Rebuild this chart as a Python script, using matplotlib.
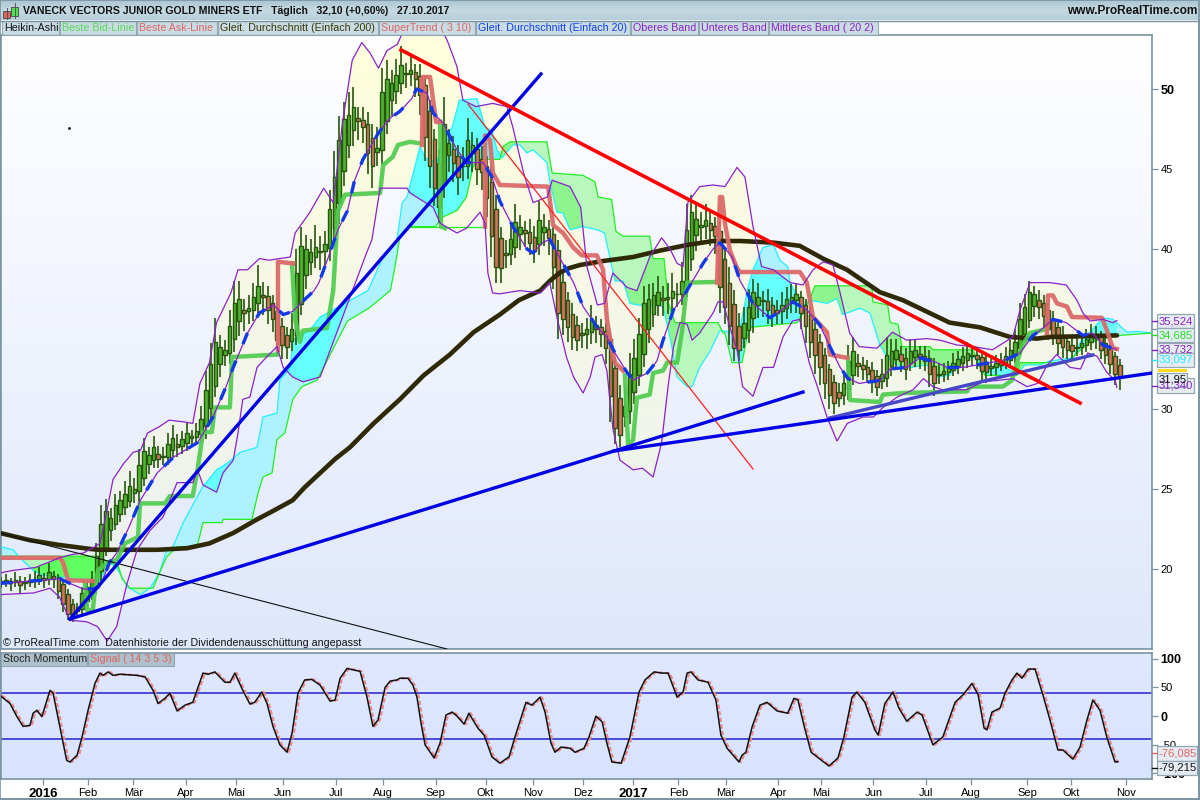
import numpy as np
import matplotlib
matplotlib.use("Agg")
import matplotlib.pyplot as plt
from matplotlib.colors import LinearSegmentedColormap
from matplotlib.patches import Rectangle, PathPatch
from matplotlib.path import Path

plt.rcParams['font.family'] = ['Liberation Sans', 'DejaVu Sans']
nan = float('nan')

# ---- Heikin-Ashi closes, one candle every two sessions
ha_close = [19.2,19.3,19.1,19.3,19.0,19.2,19.3,19.4,19.6,19.3,19.8,19.4,18.6,17.8,17.2,17.0,17.6,18.5,18.9,19.4,20.8,
 22.8,23.6,23.2,24.0,24.3,24.7,25.2,25.0,26.5,27.4,27.1,27.6,26.9,27.0,27.8,28.2,27.6,28.1,28.5,28.3,28.6,29.4,31.2,
 32.8,34.2,33.9,33.7,35.2,36.6,36.9,36.0,36.3,37.0,37.7,37.0,36.2,35.6,34.3,34.0,33.9,35.0,38.5,
 40.2,40.0,39.8,40.1,39.9,40.3,42.5,44.5,46.8,48.1,48.4,48.9,48.0,47.6,46.0,45.2,46.3,49.8,50.6,50.4,50.9,51.5,
 51.0,51.2,50.6,49.6,47.0,45.2,43.8,42.6,47.8,46.6,45.4,44.5,45.2,46.8,46.5,45.0,44.8,43.2,40.8,38.9,
 38.8,39.6,40.6,41.7,41.4,41.0,40.4,39.9,41.8,41.4,40.7,38.9,36.0,35.6,35.1,34.5,34.3,34.6,35.0,35.6,35.0,
 34.7,33.8,30.8,28.8,28.4,30.2,32.2,33.2,34.7,36.6,36.9,37.1,37.3,36.8,37.0,37.4,37.2,38.0,41.2,42.3,41.9,
 41.5,41.8,41.2,40.8,37.6,36.4,35.2,33.8,33.7,35.4,36.4,37.3,37.0,36.8,36.2,35.9,36.0,36.5,36.9,37.0,37.2,
 36.0,35.2,34.2,33.4,32.6,31.6,30.9,30.4,30.7,31.6,33.0,33.6,32.7,32.5,32.2,31.7,31.4,32.2,33.4,33.6,33.7,
 33.0,32.5,33.6,33.7,33.2,33.0,32.2,31.6,32.2,32.4,32.6,32.9,33.1,33.3,33.5,33.4,33.1,32.4,32.3,32.7,32.9,
 33.0,33.3,33.7,34.2,35.6,36.4,37.3,37.2,36.4,35.8,35.0,34.6,34.1,33.9,33.7,33.6,33.9,34.1,34.4,34.7,34.7,33.7,33.4,32.8,32.2,32.0]
wick_up = [.3,.4,.2,.5,.3,.3,.4,.5,.5,.3,.6,.3,.2,.2,.3,.3,.3,.4,.4,.5,.8,
 1.2,.8,.6,.7,.6,.8,.9,.7,1.0,.8,.5,.7,.5,.6,.7,.8,.6,.5,.6,.4,.5,.8,1.2,
 1.3,1.5,.7,.6,1.0,1.4,1.1,.7,.8,.9,1.3,.8,.6,.5,.6,.5,.5,1.0,1.5,
 1.2,.9,.8,1.4,.9,.8,1.2,1.6,1.5,1.1,1.4,1.2,.7,.8,.7,.9,1.3,1.5,1.2,.8,1.0,1.2,
 .6,.8,.5,.7,.6,.7,.6,.9,1.7,.9,.8,.7,1.2,1.4,.8,.7,.8,.6,.9,.9,
 .7,.8,1.0,1.1,.7,.6,.8,.7,1.2,.8,.6,.5,.6,.7,.5,.7,.6,.6,.7,.9,.6,
 .5,.5,.6,.6,.8,1.2,1.3,1.2,1.0,1.1,.9,.8,1.0,.8,.9,1.1,.7,1.2,1.6,1.1,.9,
 .8,1.0,.7,.6,.6,.7,1.0,.9,.8,1.0,1.1,.8,.9,.6,.7,.5,.6,.8,.7,.8,.6,
 .4,.4,.5,.4,.5,.4,.3,.4,.6,.8,1.0,.9,.6,.5,.4,.5,.4,.9,1.1,.8,.7,
 .5,.6,.8,.7,.5,.6,.5,.5,.6,.5,.4,.6,.5,.6,.7,.5,.5,.4,.6,.7,.5,
 .5,.6,.6,.8,1.0,.8,.7,.5,.6,.5,.4,.5,.5,.6,.4,.5,.6,.5,.6,.6,.5,.3,.3,.3,.3,.4]
wick_dn = [.4,.3,.5,.3,.5,.4,.3,.4,.3,.5,.4,.6,.5,.5,.4,.3,.4,.3,.4,.4,.5,
 .6,.5,.7,.4,.5,.5,.4,.6,.7,.5,.6,.5,.6,.5,.5,.4,.6,.5,.5,.6,.5,.5,.8,
 .9,.7,.8,.7,.7,.8,.9,1.1,.8,.7,.6,1.1,.9,.8,1.0,.9,.8,.6,.6,
 .7,.9,.8,.7,1.1,.9,.8,1.1,1.3,.9,.8,1.0,1.2,1.0,1.3,1.4,.9,.9,.8,1.0,.8,.7,
 .9,.8,1.1,1.2,1.5,1.4,1.1,1.0,.8,1.1,1.2,1.1,.9,.8,1.2,1.0,1.1,1.2,1.3,1.0,
 .9,.8,.7,.7,1.0,.9,.8,.8,.7,.9,1.1,1.4,1.6,1.0,.9,.8,.7,.8,.9,.8,.9,
 .8,1.0,1.6,1.0,.8,.7,.8,.7,.7,.8,.9,.8,.7,1.0,.9,.8,.8,.7,.6,.8,1.0,
 .9,.8,1.0,1.1,1.6,1.1,1.2,.8,.7,.6,.8,.9,.8,1.0,.9,.8,.7,.8,.7,.6,.8,
 1.0,1.1,1.0,1.2,1.1,1.0,.9,.7,.6,.6,.7,.6,.7,.7,.6,.7,.6,.5,.6,.6,.6,
 .7,.7,.5,.6,.7,.6,.8,.8,.6,.5,.5,.4,.5,.5,.5,.6,.6,.8,.7,.5,.5,
 .4,.4,.4,.5,.4,.5,.5,.7,.8,.8,.7,.6,.7,.7,.6,.6,.5,.5,.4,.5,.7,.6,.6,.6,.7,.8]

# ---- Bollinger bands (session, price)
upper_s = [0,5,10,15,20,25,30,35,40,42,45,47.5,52,56,59,62,67,71,77,81,84,88,91,97,100,104,109,113,122,124,130,136,140,144,148,152,155.5,159,162.6,167,172,177,183,188,192,194.5,200,207,213,215.5,220,224,230,232,239.5,244,246.6,251,254,257.5,263.5,267.6,273,278,281.5,284.5,287,289,294,299.6,304.6,309.7,313,316.4,320,325,332,337.4,341.6,345.8,350,353,357,361,368.5,375,381,389.5,395,402,409,417,425.6,428.6,432.8,441,448,452.5,455,458,463.4,467.6,469.3]
upper_p = [19.75,19.9,20.0,20.1,20.4,20.7,20.9,21,21.4,21.6,23.7,25.6,26.6,27.3,27.4,28.5,28.9,29.3,29.2,29.1,31.6,32.9,35.4,37.25,38.7,38.7,39.4,39.3,39.5,41,42.25,43.8,42.9,48,51.8,52.9,52.25,51.3,52.4,52.8,54.5,53.6,54.5,53,51.4,49.3,48.9,49.1,48.9,47.6,44.75,42.9,43.25,44.3,43.9,42.6,38.9,36.5,36.6,38.5,37.6,37.4,39.5,40.7,40,39.1,38.9,42.9,43.9,44,43.9,45.1,44.5,41.4,38.9,38.7,37.9,37.75,38.7,39.2,39,37.25,34.75,33.9,33.8,34.8,34.3,34.4,34.3,34,33.9,33.7,34.5,36.2,37.9,37.9,37.75,36.8,36,35.5,35.6,35.4,35.52]
lower_s = [0,14,21,25,29.4,36.5,41,45,49,53.4,57.6,63,68.5,74.4,81,83,85.3,91,93.7,98,100,102,105,108,112,116.4,119,123,127.3,134.5,154,156.3,159.7,171,172.3,182,185,192,196,201.7,203.8,205,207,210,218.5,227,231,234,238,241,245,248,250,253,255,257.6,260.5,266,270,274.4,278,280.7,283,285.7,288.7,290.8,294,299.6,301.7,303.8,306.7,309.7,312,316.4,320.6,325,329,333,336,340,343,347.5,351.7,356,362.6,367,371,377,383.6,388,392,396,406,413,420,425.6,431.5,436,440,444,449.6,454,457,461,465,468.5,469.3]
lower_p = [18.4,18.5,18.8,18.25,16.8,16.7,16.4,15.5,16.4,19.1,21.2,22.4,23.25,25.4,25.4,26.2,25.25,24.8,26,26.8,28.5,30.6,30.75,32.6,33.25,33.9,32.6,32,31.7,32,39.75,40.6,43.8,43.8,43.5,42.6,41.6,41,41.3,42.3,41.6,38.5,37.25,37.2,37.4,37.25,37.9,35.75,33.25,32,31,32,33.25,33.4,32.4,28.7,26.8,26.2,26.3,25.75,27.9,31.4,33.9,35.4,35.3,34.3,34.75,36,36.7,36.7,35.1,33.7,31.4,30.8,32.6,32.6,34.5,35.5,35.6,32.9,31.6,29.5,28,29.1,29.5,29.5,30.1,30.75,31.2,31.9,31.4,31.2,31.2,31.7,31.8,31.9,31.4,31.6,32.75,33.4,32.6,32.5,33.5,33.3,32.3,31.8,31.34]
mid_s = [0,18,25,29.4,35,39,42,46,49,54,59,66,73,83,89.5,95,98,104,109,115,119,123,127,132,134,138,142,146,149,152.5,159,164,168,173,175,179.4,182,186,192,196,203,206.7,210,215.5,221.4,224,228,231,235,241,245,251,255,258.4,263.4,266,272,276,278.6,283,287,293,295.4,299.6,302.5,307.6,311,316.4,323.5,327.7,333,339,344.5,348.7,353,356.3,361,370,374,381,386.5,393.7,398,404.6,410.5,416,423,428.6,434,437,442.4,448,455,459,463.4,469]
mid_p = [19.1,19.3,19.4,19.1,18.75,18.75,18.9,20.4,21,22.55,24.3,26,27,27.9,29.5,31.4,32.6,34.75,36,36.5,35.9,36.1,36.7,37.4,37.9,39.5,41.2,42.4,44.3,45.6,47.25,48.2,48.6,49.4,50,49.75,48.5,47.9,46.2,45.4,45.4,44.5,43,41.4,40,39.75,40.4,40.6,39.5,37.9,36.4,35.1,34.5,33.5,32.3,31.8,32.25,33,34.3,36.2,37,38.5,39.1,40,40.4,39.5,38,36.6,35.7,36.1,36.7,36.2,35.25,33.9,32.6,31.9,31.6,31.8,32.5,32.6,33.2,32.9,32.6,32.6,32.75,32.9,33.1,33.5,34.6,34.9,35.6,35.4,34.6,34.75,34,33.73]

# ---- Simple moving average 200
sma200_s = [0,12.6,25,38,42,56,66,78.6,88,98,108,115,123,128,134.5,141,147,157,168,178,189,199,210,218,227,231,235,239,243.7,253.4,266,277.3,288.7,299.6,311,324.8,336,345.8,355.9,369.7,379.4,399,411.8,424.4,435.7,441,455,469.3]
sma200_p = [22.25,21.8,21.5,21.25,21.2,21.2,21.2,21.3,21.6,22.25,23.1,23.65,24.3,25.1,26,26.9,27.6,29.1,30.6,32.1,33.4,34.8,35.9,36.8,37.4,38,38.5,38.8,39,39.25,39.5,39.9,40.25,40.5,40.5,40.4,40.2,39.4,38.7,37.3,36.8,35.4,35.1,34.5,34.4,34.5,34.55,34.6]

# ---- Cloud edges
cyan_s = [0,5.5,8.4,14,18,25,30.7,42,46,49,53.4,59,63,67,70,72.7,77,85,91,95.4,101,108,110.5,116.4,117.6,122,123,130,134.5,154.6,161,166.8,169,171,176.5,178.6,183.6,186,190,193,200.4,203.8,206.7,208.8,211,215.5,218.5,221.4,224,229.8,231,234,236.5,239.5,245,251,254,258.4,261.8,264.7,272,276,278.6,281.5,284.5,288.7,290.8,294,298.3,302.5,308,311,314.3,316.4,320.6,325,327.7,331,332,337.4,340,347.5,351.7,354,361.3,365.5,369.7,372.7,377,382.4,389.5,393.7,399,403.4,410.5,414.7,419,425.6,428.6,430.7,437,441,451,455,458,463.4,467.6,473.5,477.7,484]
cyan_p = [21.4,21.2,20.7,19.9,19.6,19.5,19.4,19.3,20.4,20.1,18.9,18.4,18.8,19.75,21.2,21.4,22.9,25.1,26.2,26.6,27.3,27.6,29.5,29.75,31.8,32.6,34.3,34.9,35.75,37.4,39.5,40.6,42.9,43.25,46.4,45.7,45.4,46.8,47.6,49.3,49.4,47.6,47.4,46.2,45.7,46.5,46.5,46,46.2,45.4,44.2,42.3,42.25,41.2,41.4,41.2,41,38,38,36.6,36.4,36.5,36.4,34.5,32,31.4,31.4,32.6,33.6,34.9,34.8,35.1,37.6,38.7,40.1,40.25,39.3,38.9,37.9,36.4,36.8,36.6,36.9,35.9,36.3,36,34,33.25,32.75,32.6,32.75,32,32.1,33.2,33.2,32.3,32.9,32.3,32.4,32.75,32.75,33,33.2,34.5,34.8,35.7,35.6,34.8,34.85,34.75]
green_s = [0,40.7,46.2,49.6,51.3,54.6,64.3,67,70,74.4,82.8,85.3,93.3,93.7,105.9,108.4,110.5,114.3,116.4,119.7,123,126.9,133.2,146,155,164,166,168,172.3,183,186,192,196,198.7,200.4,210,211.3,214.3,229.8,232,245,250,251.3,257,258.8,261.8,273,274.4,279,280,280.7,283.6,301.7,303.8,304.6,307.6,311.8,313.9,315,334.9,337.4,340.3,342.4,366.4,366.7,373,374,377.3,379,390.8,392,408.8,411.8,413.9,427.3,428.6,448.3,452.5,458,467.6,470.6,484]
green_p = [20.8,20.8,20.4,20.25,19.4,18.8,18.8,19.75,20.75,21.4,21.4,22.9,22.9,23.1,23.1,24.75,25.75,26,28.1,28.5,30.6,31.4,31.8,35.5,36.3,37.4,38.9,40.75,41.4,41.4,42,42.4,43.25,45.1,45.6,45.6,46.4,46.7,46.7,44.75,44.6,44.2,43.25,43.1,41.1,40.8,40.8,39.4,39.4,37.9,36.7,35.4,35.4,34.75,34.75,32.9,32.9,34.5,35.1,35.4,36,36.9,37.7,37.7,36.7,36.5,35.4,35.3,33.9,33.9,33.7,33.7,32.6,32.1,32.1,32.9,32.9,33.5,34.2,34.5,34.6,34.75]
flat_green_s = [172.3,203.8]
flat_green_p = [41.4,41.4]

# ---- Best bid / best ask stops (gaps where the other side takes over)
bid_s = [35.7,36.6,39,39.9,41.2,45.4,49.2,52.5,58,58.8,69.3,71.4,81,83.2,85.3,89,90.3,96.6,97.5,116.4,nan,
 122.7,124,126,127.3,137.4,140,142,145,159.7,161,165,167.2,172.3,176.5,nan,
 184.9,185.3,187,nan,
 262.6,263.9,266,267.6,273,274.4,278.6,280.3,284.5,286.6,288.7,301.3,nan,
 356.3,357.1,369.7,371,379.4,406.3,407.6,421.4,425.2,427.3,429.4,432.8,439.9]
bid_p = [19.1,17.44,17.44,18.7,19.94,20.4,20.6,21.6,22,24.1,24.1,24.56,24.56,26.4,28.56,28.56,30.1,30.1,33.25,33.4,nan,
 39.1,35.6,34.2,34.9,35.06,37.4,42.4,43.4,43.5,45.25,45.75,46.5,46.7,46.6,nan,
 47.94,41.4,41.3,nan,
 32.1,27.75,28.06,30.7,30.9,32.25,32.4,32.9,32.9,34.9,37.9,37.94,nan,
 33.2,30.56,30.44,30.9,31,31.1,31.4,31.4,31.8,32.9,33.9,34.75,35]
ask_s = [0,25.2,26.5,28.6,39,nan,
 116.8,116.8,123.1,nan,
 177.3,177.7,180.7,183.2,184.9,nan,
 203.8,203.8,205.9,207.1,210,230.3,232.4,236.6,240.8,244.5,250.8,253.4,255,257.1,258.4,261.8,nan,
 301.3,302.5,303.4,304.6,306.7,309.7,310.9,336.1,339,341.6,347.5,348.7,355.9,nan,
 439.9,440.3,442.4,444.1,448.3,450.4,463,465.1,467.6,469.3]
ask_p = [20.7,20.7,20.4,19.3,19.25,nan,
 33.7,39.2,39.1,nan,
 46.5,50.75,50.75,47.94,47.94,nan,
 41.4,47.1,46.8,44.75,44,43.9,41.5,41,40.1,39.6,39.6,38.7,35.6,33.7,32.9,32.4,nan,
 37.9,43.25,43.25,41.6,39.9,38.8,38.56,38.56,37.9,35.75,34.8,33.4,33.2,nan,
 34.75,37.1,37.1,36.6,36.4,35.75,35.7,34.9,33.8,33.75]

# ---- Drawn trend lines: (start session, end session), (start price, end price)
red_trend = ([168.5,453.8],[52.44,30.375])
red_thin = ([196.6,316.4],[49.06,26.25])
blue_up = ([29.4,227.3],[16.875,50.94])
blue_base = ([29.4,258,337.4],[16.875,27.375,31.06])
blue_flat = ([258,484],[27.375,32.25])
indigo_trend = ([348.7,459.2],[29.44,33.375])
black_thin = ([0,187.8],[22.25,15])

# ---- Stochastic momentum
stoch_s = [0,4.2,7,9.7,12.6,13.9,15.5,17.6,21,22.3,26,28,29.4,32.4,34.5,37,39.9,42,43.3,45.4,47.5,50.4,57.6,61,64.3,66.4,69.3,71.4,74.4,77.7,81,85.3,87.4,90.3,94.5,96.6,98.7,102,105,107,110,112.2,114.7,117.6,120.6,122.7,125.2,128,131,134.5,138.7,140.8,142.9,145.8,151.3,154.2,156.7,158.8,161.8,163.9,166.8,168,171.4,173.5,175.2,176.9,178.6,182.4,184.9,187.4,190,192,195,197,200.8,203.4,206.7,210,213.9,216.4,219,221,223.5,226.9,229,231.5,233.2,235.7,239.5,241.6,245.4,247.5,250.4,253,255,257.1,261,264.7,266.8,268.5,271,274.8,278.2,280.7,284.5,287,288.7,290.3,293.3,297.5,300.8,302.9,305.5,310.5,311.8,313.4,316,319.3,322.3,326.5,331,333.6,335.3,337.8,340.8,343.3,348.3,352.1,354.6,358,360,363.4,367.6,369,371.8,375.2,377.7,381,385.3,387.4,392,396.2,401.3,404.6,408.4,411,413.5,414.7,416.8,420.2,422.3,425.2,427.3,429.4,432,434.9,438.2,441.2,444.5,446.6,450.8,453.8,456.7,459.2,462.2,465,468.5,469.7]
stoch_v = [36,22,0,-18,-16,5,10,-1,45,40,-36,-77,-80,-68,-36,10,57,75,71,77,71,73,71,68,45,22,31,40,9,19,24,75,73,77,59,59,75,45,21,24,42,22,-18,-50,-63,-30,40,63,64,54,26,28,66,83,78,33,-18,-7,50,61,63,66,66,54,33,-12,-50,-73,-47,2,7,0,-14,5,-21,-33,-71,-82,-71,-36,-2,24,19,33,7,-47,-63,-54,-56,-63,-56,-36,0,-10,-47,-80,-82,-36,7,42,63,77,75,75,33,42,75,77,63,59,28,-33,-56,-80,-68,-63,-19,19,24,9,5,31,28,-16,-63,-71,-87,-73,-36,33,42,24,-24,-33,22,42,14,-9,7,2,-50,-36,24,37,57,37,-21,-24,7,14,40,63,75,66,82,82,37,-7,-59,-59,-75,-54,-7,28,10,-36,-80,-79.2]
signal_lag_sessions = 0.8

price_ticks = [20,25,30,35,40,45,50]
stoch_ticks = [-100,-50,0,50,100]
stoch_levels = [-40,40]
month_ticks = [18,37,56,78,99,119,141,161,183,204,224,245,266,285,305,327,345,367,389,408,431.5,450,473]
month_labels = ['2016','Feb','Mär','Apr','Mai','Jun','Jul','Aug','Sep','Okt','Nov','Dez','2017','Feb','Mär','Apr','Mai','Jun','Jul','Aug','Sep','Okt','Nov']

W, H = 1200, 800
fig = plt.figure(figsize=(12, 8), dpi=100, facecolor='white')

def rect(l, t, r, b):
    return [l/W, 1-b/H, (r-l)/W, (b-t)/H]

FRAME = '#7b93a1'
XLIM = (0.42, 484.04)
ax = fig.add_axes(rect(1, 35, 1152, 649))
ax2 = fig.add_axes(rect(1, 653, 1152, 779))

def gradient(a, top, bottom, zorder=0):
    cm = LinearSegmentedColormap.from_list('g', [top, bottom])
    x0, x1 = a.get_xlim(); y0, y1 = a.get_ylim()
    return a.imshow(np.linspace(0, 1, 256)[:, None], cmap=cm, extent=[x0, x1, y0, y1],
                    aspect='auto', zorder=zorder, origin='upper')

ax.set_xlim(*XLIM); ax.set_ylim(15, 53.375)
ax2.set_xlim(*XLIM); ax2.set_ylim(-109.6, 110)
gradient(ax, '#ffffff', '#dfe7fb')
gradient(ax2, '#e0e8ff', '#d8e3ff')

# ---- bands and cloud on a fine common grid
grid = np.linspace(0, 484, 4000)
up = np.interp(grid, upper_s, upper_p)
lo = np.interp(grid, lower_s, lower_p)
has_band = grid <= 469.3
cy = np.interp(grid, cyan_s, cyan_p)
gr = np.interp(grid, green_s, green_p)

# the band fill fades from pale yellow at the top to a grey tint at the bottom
band_img = gradient(ax, '#ffffdc', '#e9eff3', zorder=1)
vx = np.r_[grid[has_band], grid[has_band][::-1]]
vy = np.r_[up[has_band], lo[has_band][::-1]]
band_patch = PathPatch(Path(np.c_[vx, vy]), transform=ax.transData, fc='none', ec='none')
ax.add_patch(band_patch)
band_img.set_clip_path(band_patch)

ax.fill_between(grid, gr, cy, where=cy >= gr, color='#aef2ff', lw=0, zorder=2)
ax.fill_between(grid, cy, gr, where=gr >= cy, color='#b8f7bd', lw=0, zorder=2)
top_in = np.minimum(np.maximum(cy, gr), up)
bot_in = np.maximum(np.minimum(cy, gr), lo)
inside = has_band & (top_in > bot_in)
ax.fill_between(grid, bot_in, top_in, where=inside & (cy >= gr), color='#66ffff', lw=0, zorder=2)
ax.fill_between(grid, bot_in, top_in, where=inside & (gr > cy) & (grid >= 60), color='#8ef58e', lw=0, zorder=2)
ax.fill_between(grid, bot_in, top_in, where=inside & (gr > cy) & (grid < 60), color='#60ff60', lw=0, zorder=2)
ax.plot(cyan_s, cyan_p, color='#22f0ff', lw=0.9, zorder=3)
ax.plot(green_s, green_p, color='#22ee22', lw=0.9, zorder=3)
ax.plot(flat_green_s, flat_green_p, color='#22ee22', lw=0.9, zorder=3)

# ---- Heikin-Ashi candles
closes = np.array(ha_close)
opens = np.empty_like(closes)
opens[0] = closes[0]
for i in range(1, len(closes)):
    opens[i] = (opens[i-1] + closes[i-1]) / 2
n = min(len(closes), len(wick_up), len(wick_dn))
sess = np.arange(n) * 2 + 0.5
closes, opens = closes[:n], opens[:n]
tops = np.maximum(closes, opens); bots = np.minimum(closes, opens)
ax.vlines(sess, bots - np.array(wick_dn[:n]), tops + np.array(wick_up[:n]),
          color='#27550f', lw=1.2, zorder=5)
colors = ['#4fb52f' if c >= o else '#d9705f' for c, o in zip(closes, opens)]
ax.bar(sess, np.maximum(tops - bots, 0.05), bottom=bots, width=1.5, color=colors,
       edgecolor='#27550f', linewidth=1.0, zorder=6)

# ---- overlays
ax.plot(sma200_s, sma200_p, color='#2f2a05', lw=3.3, zorder=7, solid_capstyle='round', solid_joinstyle='round')
ax.plot(bid_s, bid_p, color='#4fcc4f', lw=3.2, alpha=0.92, zorder=8, solid_joinstyle='round')
ax.plot(ask_s, ask_p, color='#dc6a6a', lw=3.2, alpha=0.95, zorder=8, solid_joinstyle='round')
ax.plot(upper_s, upper_p, color='#8a22c8', lw=0.9, zorder=9)
ax.plot(lower_s, lower_p, color='#8a22c8', lw=0.9, zorder=9)
ax.plot(mid_s, mid_p, color='#8a22c8', lw=0.9, zorder=9)
ax.plot(mid_s, mid_p, color='#1238e8', lw=2.4, zorder=10, dashes=(3.6, 5.4), dash_capstyle='butt')

ax.plot(*black_thin, color='#111111', lw=0.8, zorder=11)
ax.plot(*red_thin, color='#ff2020', lw=0.9, zorder=11)
ax.plot(*indigo_trend, color='#4646c8', lw=2.4, zorder=11)
ax.plot(*blue_up, color='#0000e6', lw=2.4, zorder=12)
ax.plot(*blue_base, color='#0000e6', lw=2.4, zorder=12)
ax.plot(*blue_flat, color='#0000e6', lw=2.4, zorder=12)
ax.plot(*red_trend, color='#ff0000', lw=2.6, zorder=12)

# ---- lower pane
for lvl in stoch_levels:
    ax2.axhline(lvl, color='#2222cc', lw=1.1, zorder=2)
ax2.plot(np.array(stoch_s) + signal_lag_sessions, stoch_v, color='#ea8c8c', lw=1.6,
         dashes=(2, 1), zorder=3)
ax2.plot(stoch_s, stoch_v, color='#111111', lw=1.1, zorder=4, solid_joinstyle='round')

# ---- axes dressing
for a in (ax, ax2):
    a.yaxis.tick_right()
    for s in a.spines.values():
        s.set_color(FRAME); s.set_linewidth(1.2)
    a.tick_params(axis='y', direction='out', length=4, width=0.9, color=FRAME, pad=2, labelsize=8)
ax.set_xticks([])
ax.set_yticks(price_ticks)
ax.set_yticklabels([str(t) for t in price_ticks])
for lab, t in zip(ax.get_yticklabels(), price_ticks):
    if t == 50:
        lab.set_fontweight('bold'); lab.set_fontsize(9)
ax2.set_yticks(stoch_ticks)
ax2.set_yticklabels([str(t) for t in stoch_ticks])
for lab, t in zip(ax2.get_yticklabels(), stoch_ticks):
    if t in (100, 0, -100):
        lab.set_fontweight('bold'); lab.set_fontsize(9)
ax2.set_xticks(month_ticks)
ax2.set_xticklabels(month_labels)
ax2.tick_params(axis='x', direction='out', length=4, width=0.9, color=FRAME, pad=2.5, labelsize=8)
for lab in ax2.get_xticklabels():
    if lab.get_text().startswith('201'):
        lab.set_fontweight('bold'); lab.set_fontsize(9.5)

# ---- overlay in pixel space for header, legends and value boxes
ov = fig.add_axes([0, 0, 1, 1], zorder=20)
ov.patch.set_alpha(0)
ov.axis('off')
cm_head = LinearSegmentedColormap.from_list('h', ['#a8c4d2', '#c6dae2', '#b6cfda'])
ov.imshow(np.linspace(0, 1, 64)[:, None], cmap=cm_head, extent=[0, W, 20, 0], aspect='auto')
ov.set_xlim(0, W); ov.set_ylim(H, 0)
ov.plot([0, W], [20.5, 20.5], color=FRAME, lw=1)
ov.add_patch(Rectangle((0, 0), W-1, H-1, fill=False, ec=FRAME, lw=1.2))
ov.plot([1199, 1199], [20, 800], color=FRAME, lw=1.2)
ov.plot([0, W], [799, 799], color=FRAME, lw=1.2)

# icon
ov.plot([6.5, 6.5], [8, 19], color='#555555', lw=0.7)
ov.add_patch(Rectangle((3, 11), 7, 7, fc='#e06060', ec='#555555', lw=0.7))
ov.plot([14.5, 14.5], [3, 18], color='#555555', lw=0.7)
ov.add_patch(Rectangle((11, 7), 7, 9, fc='#50e050', ec='#555555', lw=0.7))

ov.text(23, 11.5, 'VANECK VECTORS JUNIOR GOLD MINERS ETF   Täglich   32,10 (+0,60%)   27.10.2017',
        fontsize=7.6, fontweight='bold', va='center', ha='left', color='#111111')
ov.text(1197, 11.5, 'www.ProRealTime.com', fontsize=8.55, fontweight='bold', va='center', ha='right', color='#111111')

legend_items = [('Heikin-Ashi', 2, 59, '#111111'), ('Beste Bid-Linie', 60, 136, '#5ad85a'),
                ('Beste Ask-Linie', 137, 217, '#e06464'), ('Gleit. Durchschnitt (Einfach 200)', 218, 378, '#3a3608'),
                ('SuperTrend ( 3 10)', 379, 475, '#e06464'), ('Gleit. Durchschnitt (Einfach 20)', 476, 630, '#1040f0'),
                ('Oberes Band', 631, 698, '#8a22c8'), ('Unteres Band', 699, 768, '#8a22c8'),
                ('Mittleres Band ( 20 2)', 769, 878, '#8a22c8')]
for label, l, r, col in legend_items:
    ov.add_patch(Rectangle((l, 21), r-l, 14, fc='#c4d8e0', ec='#8ca2ae', lw=0.8, alpha=0.9))
    ov.text(l+2, 28, label, fontsize=7.7, va='center', ha='left', color=col)
for label, l, r, col in [('Stoch Momentum', 1, 87, '#222222'), ('Signal ( 14 3 5 3)', 88, 174, '#e06464')]:
    ov.add_patch(Rectangle((l, 653), r-l, 13, fc='#a8bcc6', ec='#8ca2ae', lw=0.8, alpha=0.9))
    ov.text(l+2, 659.5, label, fontsize=7.7, va='center', ha='left', color=col)

ov.text(3, 643, '© ProRealTime.com  Datenhistorie der Dividendenausschüttung angepasst',
        fontsize=7.7, va='center', ha='left', color='#111111')
ov.plot([69], [128], marker='s', ms=0.9, color='#111111')

def value_box(t, b, text, col, r=1194):
    ov.add_patch(Rectangle((1157, t), r-1157, b-t, fc='#e6ecf4', ec='#93a7b3', lw=0.9))
    ov.text(1158.5, (t+b)/2, text, fontsize=8.1, va='center', ha='left', color=col)
    ov.plot([1152, 1157], [(t+b)/2, (t+b)/2], color=col, lw=1)

value_box(378, 393, '31,340', '#8a22c8')
value_box(343, 357, '33,732', '#8a22c8')
value_box(314, 328, '35,524', '#8a22c8')
value_box(328, 342, '34,685', '#22dd22')
value_box(353, 367, '33,097', '#22eeff')
ov.add_patch(Rectangle((1158, 369), 29, 2.5, fc='#ffd820', ec='none'))
ov.add_patch(Rectangle((1157, 373), 30, 14, fc='#e6ecf4', ec='#93a7b3', lw=0.9))
ov.text(1159, 380, '31,95', fontsize=8.1, va='center', ha='left', color='#111111')
value_box(746, 760.5, '-76,085', '#e06464', r=1197)
value_box(761, 775, '-79,215', '#111111', r=1197)

fig.savefig('out.png', dpi=100)
